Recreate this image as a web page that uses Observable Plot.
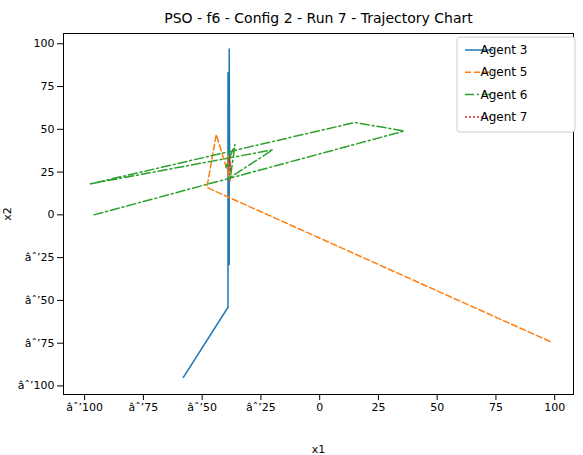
<!DOCTYPE html>
<html><head>
<script src="https://cdn.jsdelivr.net/npm/d3@7"></script>
<script src="https://cdn.jsdelivr.net/npm/@observablehq/plot@0.6"></script>
<style>body{margin:0;background:#fff;font-family:"DejaVu Sans",sans-serif}</style>
</head><body><div id="c"></div>
<script>
const agent3x=[-58,-39,-39,-38.5,-38.5,-38.3,-38.4];
const agent3y=[-95,-54,83,-29,97,20,30];
const agent5x=[98,-48,-44,-38,-39,-38];
const agent5y=[-74,16,47,20,35,25];
const agent6x=[-96,36,15,-98,-20,-38,-36,-40,-38];
const agent6y=[0,49,54,18,38,22,41,28,30];
const agent7x=[-38,-38.5,-38];
const agent7y=[26,33,30];
const series=[["Agent 3",agent3x,agent3y,"#1f77b4",null],["Agent 5",agent5x,agent5y,"#ff7f0e","6,3"],["Agent 6",agent6x,agent6y,"#2ca02c","9,3,2,3"],["Agent 7",agent7x,agent7y,"#d62728","2,2"]];
const data=series.flatMap(([n,xs,ys])=>xs.map((x,i)=>({agent:n,x,y:ys[i]})));
const marks=[Plot.frame()];
for(const [n,xs,ys,c,d] of series){
  marks.push(Plot.line(data.filter(r=>r.agent===n),{x:"x",y:"y",stroke:c,strokeWidth:1.5,strokeDasharray:d}));
}
const plot=Plot.plot({width:583,height:455,marginTop:33,marginLeft:63,marginRight:10,marginBottom:61,
  style:{fontSize:"11px",fontFamily:"DejaVu Sans",background:"white"},
  x:{domain:[-109,108],ticks:[-100,-75,-50,-25,0,25,50,75,100],label:"x1",labelAnchor:"center",labelArrow:"none"},
  y:{domain:[-105,106],ticks:[-100,-75,-50,-25,0,25,50,75,100],label:"x2",labelAnchor:"center",labelArrow:"none"},
  marks:[...marks,
   Plot.text(["PSO - f6 - Config 2 - Run 7 - Trajectory Chart"],{frameAnchor:"top",dy:-20,fontSize:14})]});
document.getElementById("c").appendChild(plot);
const svg=d3.select(plot);
const g=svg.append("g").attr("transform","translate(457,37)");
g.append("rect").attr("width",118).attr("height",95).attr("rx",3).attr("fill","white").attr("stroke","#ccc");
series.forEach(([n,,,c,d],i)=>{
  const y=13+i*22.3;
  g.append("line").attr("x1",8).attr("x2",36).attr("y1",y).attr("y2",y).attr("stroke",c).attr("stroke-width",1.5).attr("stroke-dasharray",d);
  g.append("text").attr("x",47).attr("y",y+4).attr("font-size",12).attr("font-family","DejaVu Sans").text(n);
});
</script></body></html>
